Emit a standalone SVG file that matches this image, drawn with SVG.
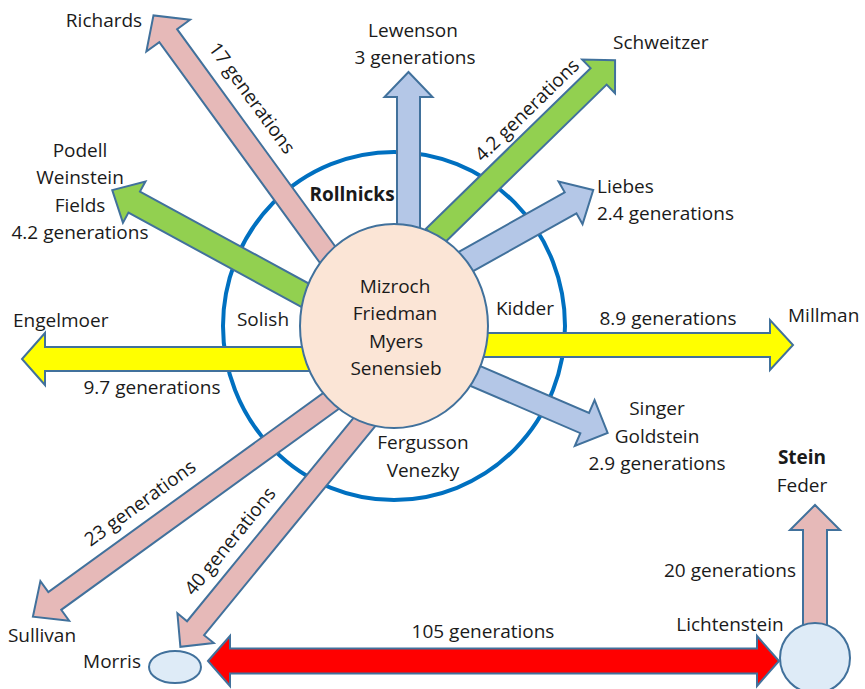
<svg xmlns="http://www.w3.org/2000/svg" width="865" height="689" viewBox="0 0 865 689">
<style>
text{font-family:"Open Sans","Noto Sans","Liberation Sans",sans-serif;font-size:19px;fill:#1a1a1a;text-anchor:middle}
.l{text-anchor:start}
.b{font-weight:bold}
.a{stroke:#41719c;stroke-width:2;stroke-linejoin:miter}
.pink{fill:#e6b9b8}.blue{fill:#b4c7e7}.green{fill:#92d050}.yel{fill:#ffff00}.red{fill:#ff0000}
</style>
<rect width="865" height="689" fill="#fff"/>
<g id="ring"><ellipse cx="394" cy="326" rx="171" ry="174" fill="none" stroke="#0070c0" stroke-width="4"/></g>
<g id="connectors">
<path class="a pink" transform="translate(330,258) rotate(-126.04)" d="M0,-11 H275 V-27 L300,0 L275,27 V11 H0 Z"/>
<path class="a blue" transform="translate(408.5,240) rotate(-90)" d="M0,-11.5 H143 V-24 L168,0 L143,24 V11.5 H0 Z"/>
<path class="a green" transform="translate(434,237) rotate(-44.3)" d="M0,-11.5 H230 V-23.5 L253,0 L230,23.5 V11.5 H0 Z"/>
<path class="a blue" transform="translate(463.3,263) rotate(-29.3)" d="M0,-12 H123 V-24.5 L149,0 L123,24.5 V12 H0 Z"/>
<path class="a green" transform="translate(309.8,297.8) rotate(-151.4)" d="M0,-12 H200 V-23.5 L225,0 L200,23.5 V12 H0 Z"/>
<path class="a yel" transform="translate(310,359) rotate(180)" d="M0,-12 H265 V-26 L288,0 L265,26 V12 H0 Z"/>
<path class="a yel" transform="translate(478,345)" d="M0,-12 H292 V-25 L315,0 L292,25 V12 H0 Z"/>
<path class="a blue" transform="translate(470.8,374) rotate(23.3)" d="M0,-11 H124 V-25 L149,0 L124,25 V11 H0 Z"/>
<path class="a pink" transform="translate(339.1,395.1) rotate(144.1)" d="M0,-11 H351 V-24.5 L378,0 L351,24.5 V11 H0 Z"/>
<path class="a pink" transform="translate(372.3,412.3) rotate(129.3)" d="M0,-11 H279 V-23.5 L303,0 L279,23.5 V11 H0 Z"/>
<path class="a pink" transform="translate(815,630) rotate(-90)" d="M0,-12 H100 V-25 L125,0 L100,25 V12 H0 Z"/>
<path class="a red" d="M208,661 L230,636 V648.5 H757 V636 L779,661 L757,686 V673.5 H230 V686 Z"/>
</g>
<g id="center">
<ellipse cx="394" cy="326" rx="94" ry="102" fill="#fbe5d6" stroke="#41719c" stroke-width="2"/>
<text x="395" y="293">Mizroch</text>
<text x="395" y="320">Friedman</text>
<text x="396" y="348">Myers</text>
<text x="396" y="375">Senensieb</text>
</g>
<g id="rollnicks"><text class="b" x="352" y="201">Rollnicks</text></g>
<g id="solish"><text x="263" y="326">Solish</text></g>
<g id="kidder"><text x="525" y="315">Kidder</text></g>
<g id="fergusson"><text x="423" y="449">Fergusson</text><text x="423" y="477">Venezky</text></g>
<g id="richards"><text x="104" y="27">Richards</text><text transform="translate(252,98) rotate(54)" x="0" y="6.5">17 generations</text></g>
<g id="lewenson"><text x="413" y="37">Lewenson</text><text x="415" y="64">3 generations</text></g>
<g id="schweitzer"><text class="l" x="613" y="49">Schweitzer</text><text transform="translate(527,110) rotate(-44.3)" x="0" y="6.5">4.2 generations</text></g>
<g id="liebes"><text class="l" x="597" y="193">Liebes</text><text class="l" x="597" y="220">2.4 generations</text></g>
<g id="podell"><text x="80" y="157">Podell</text><text x="80" y="184">Weinstein</text><text x="80" y="212">Fields</text><text x="80" y="239">4.2 generations</text></g>
<g id="engelmoer"><text class="l" x="13" y="327">Engelmoer</text><text x="152" y="394">9.7 generations</text></g>
<g id="millman"><text class="l" x="788" y="322">Millman</text><text x="668" y="325">8.9 generations</text></g>
<g id="singer"><text x="657" y="415">Singer</text><text x="657" y="443">Goldstein</text><text x="657" y="470">2.9 generations</text></g>
<g id="sullivan"><text x="42" y="642">Sullivan</text><text transform="translate(140,503) rotate(-36)" x="0" y="6.5">23 generations</text></g>
<g id="morris"><ellipse cx="175" cy="667" rx="26" ry="16" fill="#deebf7" stroke="#41719c" stroke-width="2"/><text x="112" y="668">Morris</text><text transform="translate(230,541) rotate(-51)" x="0" y="6.5">40 generations</text></g>
<g id="lichtenstein"><circle cx="815" cy="658" r="35" fill="#deebf7" stroke="#41719c" stroke-width="2"/><text x="730" y="631">Lichtenstein</text><text x="483" y="638">105 generations</text></g>
<g id="stein"><text class="b" x="802" y="464">Stein</text><text x="802" y="492">Feder</text><text x="730" y="577">20 generations</text></g>
</svg>
